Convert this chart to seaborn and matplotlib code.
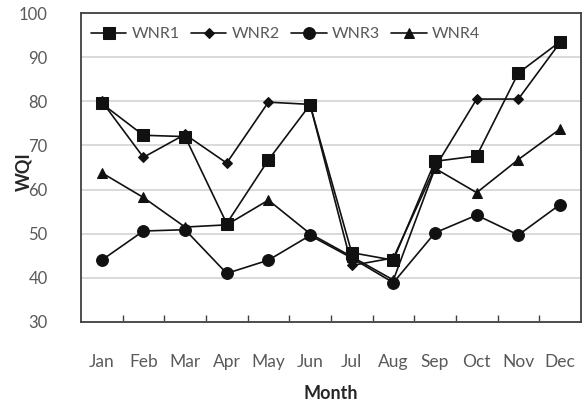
import pandas as pd
import matplotlib.pyplot as plt
import seaborn as sns

# monthly WQI per site
months = ["Jan", "Feb", "Mar", "Apr", "May", "Jun", "Jul", "Aug", "Sep", "Oct", "Nov", "Dec"]
wnr1 = [79.5, 72.3, 72.0, 52.3, 66.7, 79.2, 45.7, 44.0, 66.4, 67.6, 86.4, 93.5]
wnr2 = [80.0, 67.3, 72.5, 66.0, 79.8, 79.3, 42.8, 44.5, 65.0, 80.5, 80.5, 93.3]
wnr3 = [44.0, 50.6, 50.9, 41.0, 44.0, 49.6, 44.5, 38.9, 50.2, 54.2, 49.7, 56.6]
wnr4 = [63.8, 58.2, 51.5, 52.0, 57.6, 50.0, 44.8, 39.5, 64.8, 59.3, 66.8, 73.7]
sites = ["WNR1", "WNR2", "WNR3", "WNR4"]

df = pd.DataFrame({"Month": months * 4,
                   "WQI": wnr1 + wnr2 + wnr3 + wnr4,
                   "site": [s for s in sites for _ in months]})

sns.set_style("white")
plt.rcParams["font.family"] = ["Lato", "DejaVu Sans"]

fig = plt.figure(figsize=(5.82, 4.07), dpi=100)
ax = fig.add_axes([0.139, 0.209, 0.859, 0.759])

markers = {"WNR1": "s", "WNR2": "D", "WNR3": "o", "WNR4": "^"}
sizes = {"WNR1": 8.5, "WNR2": 5.5, "WNR3": 8.5, "WNR4": 7.5}
for s in sites:
    sns.lineplot(
        data=df[df["site"] == s],
        x="Month",
        y="WQI",
        color="#111111",
        marker=markers[s],
        markersize=sizes[s],
        markeredgecolor="#111111",
        linewidth=1.2,
        label=s,
        legend=False,
        ax=ax,
        zorder=3,
    )

ax.set_xlim(-0.5, len(months) - 0.5)
ax.set_ylim(30, 100)
ax.set_yticks(range(30, 101, 10))
ax.set_xticks(range(len(months)))
ax.set_xticks([i + 0.5 for i in range(len(months) - 1)], minor=True)
ax.set_xticklabels(months)
ax.yaxis.grid(True, color="#d9d9d9", linewidth=1.4)
ax.set_axisbelow(True)

ax.tick_params(axis="x", which="major", length=0, pad=23, labelsize=12.5, labelcolor="#595959")
ax.tick_params(axis="x", which="minor", direction="in", length=5, width=1, color="#404040", bottom=True)
ax.tick_params(axis="y", length=0, pad=24, labelsize=12, labelcolor="#595959")

for side in ["left", "right", "top", "bottom"]:
    ax.spines[side].set_color("#404040")
    ax.spines[side].set_linewidth(1.3)

ax.set_xlabel("Month", fontsize=13, fontweight="bold", labelpad=11)
ax.set_ylabel("WQI", fontsize=13, fontweight="bold")
ax.yaxis.set_label_coords(-0.098, 0.485)

ax.legend(loc="center", bbox_to_anchor=(0.41, 0.932), ncol=4, frameon=False,
          fontsize=11.5, handlelength=2.2, handletextpad=0.35, columnspacing=0.7,
          labelcolor="#595959")

fig.savefig("out.png", dpi=100)
